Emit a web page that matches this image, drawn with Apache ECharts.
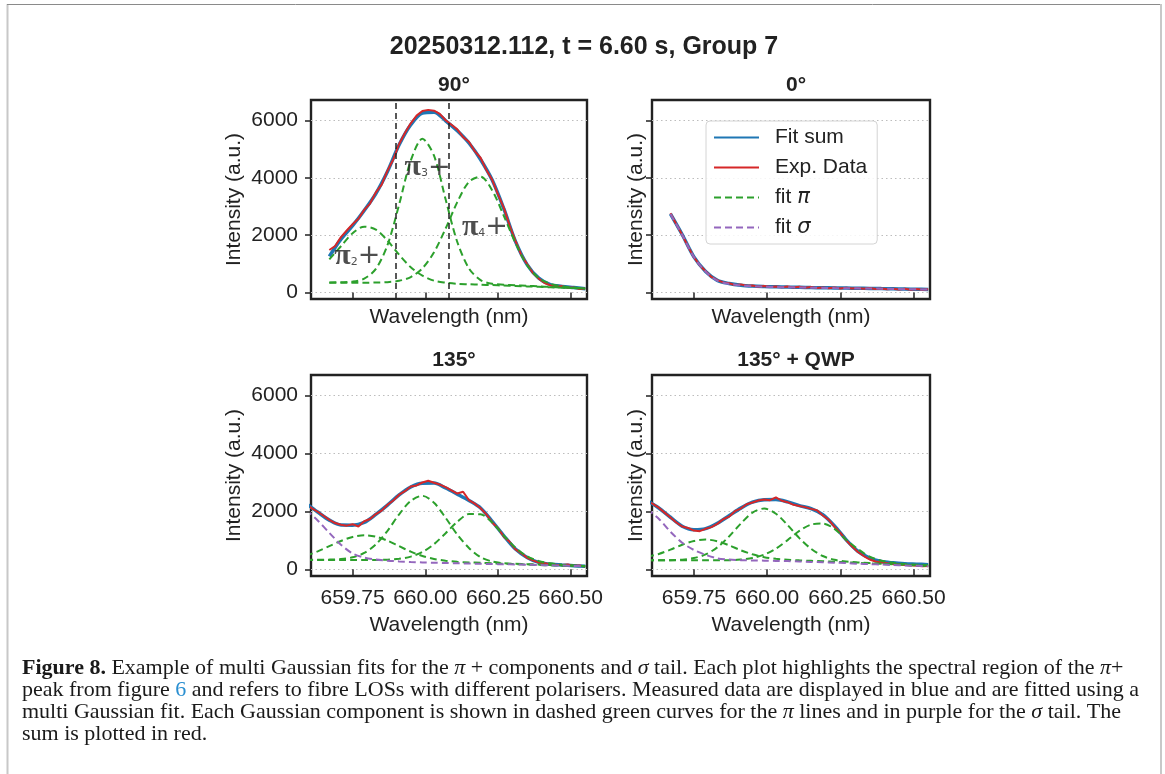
<!DOCTYPE html>
<html>
<head>
<meta charset="utf-8">
<title>Figure 8 - multi Gaussian fits</title>
<script src="https://cdn.jsdelivr.net/npm/echarts@6/dist/echarts.min.js"></script>
<style>
    html, body { margin: 0; padding: 0; background: #fff; }
    #chart { width: 1165px; height: 774px; }
</style>
</head>
<body>
<div id="chart"></div>
<script>
// wavelength grids (nm)
const wlTop = [659.67, 659.71, 659.75, 659.79, 659.83, 659.87, 659.91, 659.95, 659.99, 660.03, 660.07, 660.11,
    660.15, 660.19, 660.23, 660.27, 660.31, 660.35, 660.39, 660.43, 660.47, 660.51, 660.55];
const wlBot = [659.59, 659.63, 659.67, 659.71, 659.75, 659.79, 659.83, 659.87, 659.91, 659.95, 659.99, 660.03, 660.07,
    660.11, 660.15, 660.19, 660.23, 660.27, 660.31, 660.35, 660.39, 660.43, 660.47, 660.51, 660.55];
const wlTopExp = [659.67, 659.69, 659.71, 659.73, 659.75, 659.77, 659.79, 659.81, 659.83, 659.85, 659.87, 659.89,
    659.91, 659.93, 659.95, 659.97, 659.99, 660.01, 660.03, 660.05, 660.07, 660.09, 660.11, 660.13, 660.15, 660.17,
    660.19, 660.21, 660.23, 660.25, 660.27, 660.29, 660.31, 660.33, 660.35, 660.37, 660.39, 660.41, 660.43, 660.45,
    660.47, 660.49, 660.51, 660.53, 660.55];
const wlBotExp = [659.59, 659.61, 659.63, 659.65, 659.67, 659.69, 659.71, 659.73, 659.75, 659.77, 659.79, 659.81,
    659.83, 659.85, 659.87, 659.89, 659.91, 659.93, 659.95, 659.97, 659.99, 660.01, 660.03, 660.05, 660.07, 660.09,
    660.11, 660.13, 660.15, 660.17, 660.19, 660.21, 660.23, 660.25, 660.27, 660.29, 660.31, 660.33, 660.35, 660.37,
    660.39, 660.41, 660.43, 660.45, 660.47, 660.49, 660.51, 660.53, 660.55];

// 90 deg
const fit90 = [1256, 1860, 2330, 2860, 3450, 4220, 5150, 5850, 6257, 6290, 5990, 5640, 5215, 4640, 3920, 2920, 1780, 970, 500, 270, 210, 170, 130];
const exp90 = [1480, 1620, 1930, 2160, 2380, 2570, 2880, 3100, 3490, 3760, 4250, 4640, 5180, 5560, 5900, 6170, 6330, 6370, 6340, 6230,
    6010, 5850, 5690, 5420, 5260, 4930, 4700, 4270, 3930, 3420, 2950, 2330, 1800, 1310, 990, 680, 480, 330, 250, 190, 220, 160, 175, 120, 140];
const pi2_90 = [1150, 1610, 2065, 2295, 2190, 1810, 1315, 880, 585, 410, 340, 300, 285, 270, 255, 240, 225, 210, 195, 180, 165, 150, 135];
const pi3_90 = [350, 355, 376, 480, 820, 1650, 3065, 4600, 5360, 4770, 3240, 1760, 840, 430, 300, 270, 250, 230, 210, 190, 170, 155, 140];
const pi4_90 = [340, 340, 340, 340, 344, 358, 405, 536, 840, 1400, 2230, 3150, 3860, 4040, 3560, 2670, 1730, 950, 500, 300, 210, 170, 130];

// 0 deg
const fit0 = [2740, 2020, 1240, 730, 420, 310, 250, 220, 205, 195, 185, 178, 170, 163, 155, 150, 145, 140, 133, 126, 118, 110, 104];
const exp0 = [2760, 2380, 2010, 1600, 1230, 950, 740, 540, 430, 350, 320, 260, 280, 230, 240, 200, 225, 190, 210, 180,
    205, 170, 195, 160, 185, 150, 175, 145, 170, 140, 165, 135, 150, 125, 150, 120, 140, 110, 130, 105, 125, 95, 115, 90, 110];
const sig0 = [2735, 2010, 1235, 725, 410, 300, 240, 212, 198, 188, 180, 172, 165, 158, 151, 146, 141, 136, 129, 122, 114, 107, 100];

// 135 deg
const fit135 = [2280, 1980, 1700, 1530, 1526, 1620, 1900, 2220, 2570, 2845, 2975, 2980, 2810, 2600, 2380, 2120, 1660, 1160, 700, 410, 240, 176, 150, 128, 104];
const exp135 = [2250, 2110, 1990, 1850, 1710, 1600, 1540, 1510, 1560, 1480, 1660, 1740, 1910, 2030, 2230, 2380, 2580, 2700, 2860, 2900,
    3000, 3060, 2990, 2930, 2840, 2730, 2620, 2680, 2390, 2270, 2110, 1900, 1620, 1420, 1130, 950, 690, 560, 400, 310,
    230, 210, 180, 160, 150, 170, 120, 130, 95];
const sig135 = [2050, 1690, 1260, 850, 550, 410, 340, 300, 275, 255, 240, 228, 218, 210, 200, 192, 184, 176, 168, 160, 150, 140, 130, 118, 104];
const pi2_135 = [470, 620, 800, 980, 1120, 1180, 1130, 990, 800, 610, 460, 360, 300, 260, 240, 225, 210, 195, 180, 165, 150, 138, 126, 115, 104];
const pi3_135 = [330, 330, 337, 357, 415, 565, 860, 1330, 1900, 2365, 2540, 2300, 1780, 1200, 740, 420, 270, 210, 190, 180, 165, 150, 138, 122, 108];
const pi4_135 = [320, 320, 320, 320, 320, 320, 322, 333, 363, 440, 600, 870, 1250, 1640, 1910, 1900, 1620, 1160, 750, 450, 290, 210, 160, 130, 104];

// 135 deg + QWP
const fitQwp = [2380, 2120, 1800, 1490, 1370, 1405, 1590, 1850, 2115, 2320, 2405, 2410, 2330, 2200, 2100, 1890, 1500, 1020, 625, 390, 270, 225, 197, 180, 162];
const expQwp = [2370, 2260, 2130, 1960, 1790, 1620, 1480, 1430, 1340, 1320, 1400, 1460, 1570, 1730, 1820, 2010, 2100, 2250, 2310, 2380,
    2410, 2390, 2490, 2370, 2320, 2230, 2190, 2150, 2090, 2040, 1860, 1720, 1470, 1260, 1000, 790, 600, 460, 340, 270,
    240, 210, 180, 170, 150, 140, 120, 110, 115];
const sigQwp = [2080, 1750, 1300, 920, 670, 500, 380, 340, 318, 308, 300, 292, 285, 270, 258, 248, 232, 215, 195, 180, 165, 150, 135, 120, 106];
const pi2_Qwp = [430, 530, 680, 850, 980, 1030, 970, 830, 660, 520, 420, 365, 335, 310, 295, 280, 262, 245, 225, 205, 188, 170, 150, 130, 110];
const pi3_Qwp = [310, 310, 317, 335, 390, 515, 760, 1135, 1580, 1960, 2100, 1920, 1530, 1080, 710, 460, 330, 270, 240, 215, 195, 175, 155, 135, 115];
const pi4_Qwp = [310, 310, 310, 310, 310, 310, 310, 310, 340, 395, 510, 715, 1010, 1330, 1545, 1580, 1400, 1020, 700, 440, 300, 225, 185, 160, 140];

// annotations of the 90 deg panel
const markWl = [659.902, 660.078];
const piLabelSub = ['2', '3', '4'];
const piLabelWl = [659.766, 660.008, 660.205];
const piLabelInt = [1270, 4357, 2290];

const xTicks = [659.75, 660.00, 660.25, 660.50];
const yTicks = [0, 2000, 4000, 6000];
const panelTitles = ['90°', '0°', '135°', '135° + QWP'];
const legendNames = ['Fit sum', 'Exp. Data', 'fit π', 'fit σ'];
const captionLines = [
    '{b|Figure 8.} Example of multi Gaussian fits for the {i|π} + components and {i|σ} tail. Each plot highlights the spectral region of the {i|π}+',
    'peak from figure {l|6} and refers to fibre LOSs with different polarisers. Measured data are displayed in blue and are fitted using a',
    'multi Gaussian fit. Each Gaussian component is shown in dashed green curves for the {i|π} lines and in purple for the {i|σ} tail. The',
    'sum is plotted in red.'
];

const FONT = 'Liberation Sans';
const INK = '#222';
const C_BLUE = '#1f77b4', C_RED = '#d62728', C_GREEN = '#2ca02c', C_PURPLE = '#9467bd';

const grids = [
    {left: 311, top: 100, width: 276, height: 199},
    {left: 652, top: 100, width: 278, height: 199},
    {left: 311, top: 375, width: 276, height: 201},
    {left: 652, top: 375, width: 278, height: 201}
];

function pairs(xs, ys) {
    return ys.map((y, i) => [xs[i], y]);
}

function line(name, grid, xs, ys, color, width, dashed, smooth) {
    return {
        name: name,
        type: 'line',
        xAxisIndex: grid,
        yAxisIndex: grid,
        data: pairs(xs, ys),
        symbol: 'none',
        smooth: smooth,
        lineStyle: {color: color, width: width, type: dashed ? [7, 4] : 'solid'},
        itemStyle: {color: color},
        emphasis: {disabled: true},
        animation: false
    };
}

let series = [
    line('Fit sum', 0, wlTop, fit90, C_BLUE, 3.5, false, 0.3),
    line('Exp. Data', 0, wlTopExp, exp90, C_RED, 2, false, false),
    line('fit π', 0, wlTop, pi2_90, C_GREEN, 2, true, 0.3),
    line('fit π', 0, wlTop, pi3_90, C_GREEN, 2, true, 0.3),
    line('fit π', 0, wlTop, pi4_90, C_GREEN, 2, true, 0.3),

    line('Fit sum', 1, wlTop, fit0, C_BLUE, 3.5, false, 0.3),
    line('Exp. Data', 1, wlTopExp, exp0, C_RED, 2, false, false),
    line('fit σ', 1, wlTop, sig0, C_PURPLE, 2, true, 0.3),

    line('Fit sum', 2, wlBot, fit135, C_BLUE, 3.5, false, 0.3),
    line('Exp. Data', 2, wlBotExp, exp135, C_RED, 2, false, false),
    line('fit π', 2, wlBot, pi2_135, C_GREEN, 2, true, 0.3),
    line('fit π', 2, wlBot, pi3_135, C_GREEN, 2, true, 0.3),
    line('fit π', 2, wlBot, pi4_135, C_GREEN, 2, true, 0.3),
    line('fit σ', 2, wlBot, sig135, C_PURPLE, 2, true, 0.3),

    line('Fit sum', 3, wlBot, fitQwp, C_BLUE, 3.5, false, 0.3),
    line('Exp. Data', 3, wlBotExp, expQwp, C_RED, 2, false, false),
    line('fit π', 3, wlBot, pi2_Qwp, C_GREEN, 2, true, 0.3),
    line('fit π', 3, wlBot, pi3_Qwp, C_GREEN, 2, true, 0.3),
    line('fit π', 3, wlBot, pi4_Qwp, C_GREEN, 2, true, 0.3),
    line('fit σ', 3, wlBot, sigQwp, C_PURPLE, 2, true, 0.3)
];

// the two black dashed guides
series[0].markLine = {
    silent: true,
    symbol: ['none', 'none'],
    label: {show: false},
    animation: false,
    lineStyle: {color: INK, type: [6, 4], width: 1.5},
    data: markWl.map(x => ({xAxis: x}))
};

// pi labels
series.push({
    type: 'scatter',
    xAxisIndex: 0,
    yAxisIndex: 0,
    symbolSize: 0,
    silent: true,
    z: 5,
    animation: false,
    data: piLabelWl.map((x, i) => ({
        value: [x, piLabelInt[i]],
        label: {formatter: '{p|π}{s|' + piLabelSub[i] + '}{q|+}'}
    })),
    label: {
        show: true,
        position: 'inside',
        rich: {
            p: {fontSize: 30, fontWeight: 'bold', fontFamily: 'Liberation Serif', color: INK},
            s: {fontSize: 11, fontFamily: 'DejaVu Sans', color: INK, padding: [12, 0, 0, 0]},
            q: {fontSize: 27, fontFamily: 'DejaVu Sans', color: INK}
        }
    }
});

let option = {
    backgroundColor: '#fff',
    animation: false,
    title: [{
        text: '20250312.112, t = 6.60 s, Group 7',
        left: 579, top: 30, textAlign: 'center',
        textStyle: {fontSize: 25, fontWeight: 'bold', color: INK, fontFamily: FONT}
    }].concat(panelTitles.map((t, i) => ({
        text: t,
        left: grids[i].left + grids[i].width / 2,
        top: i < 2 ? 70 : 345,
        textAlign: 'center',
        textStyle: {fontSize: 21, fontWeight: 'bold', color: INK, fontFamily: FONT}
    }))),
    legend: {
        data: legendNames,
        orient: 'vertical',
        left: 706,
        top: 121,
        padding: [6, 10, 6, 7],
        itemWidth: 45,
        itemHeight: 14,
        itemGap: 9,
        selectedMode: false,
        backgroundColor: 'rgba(255,255,255,0.85)',
        borderColor: '#d4d4d4',
        borderWidth: 1,
        borderRadius: 4,
        itemStyle: {opacity: 0, borderWidth: 0},
        formatter: name => name.replace(/([πσ])/, '{i|$1}'),
        textStyle: {
            fontSize: 21, color: INK, fontFamily: FONT, padding: [0, 0, 0, 11],
            rich: {i: {fontSize: 21, fontStyle: 'italic', fontFamily: 'DejaVu Sans', color: INK}}
        }
    },
    grid: grids.map(g => Object.assign({show: true, borderColor: INK, borderWidth: 2.4, backgroundColor: 'transparent'}, g)),
    xAxis: grids.map((g, i) => ({
        type: 'value',
        gridIndex: i,
        min: 659.607,
        max: 660.556,
        name: 'Wavelength (nm)',
        nameLocation: 'middle',
        nameGap: i < 2 ? 8 : 39,
        nameMoveOverlap: false,
        nameTextStyle: {fontSize: 21, color: INK, fontFamily: FONT},
        axisLine: {show: false},
        axisTick: {show: true, length: 6, customValues: xTicks, lineStyle: {color: INK, width: 1.5}},
        axisLabel: {
            show: i >= 2, customValues: xTicks, margin: 12,
            fontSize: 21, color: INK, fontFamily: FONT,
            formatter: v => v.toFixed(2)
        },
        splitLine: {show: false}
    })),
    yAxis: grids.map((g, i) => ({
        type: 'value',
        gridIndex: i,
        min: -230,
        max: 6715,
        name: 'Intensity (a.u.)',
        nameLocation: 'middle',
        nameGap: i % 2 === 0 ? 66 : 5,
        nameMoveOverlap: false,
        nameTextStyle: {fontSize: 21, color: INK, fontFamily: FONT},
        axisLine: {show: false},
        axisTick: {show: true, length: 6, customValues: yTicks, lineStyle: {color: INK, width: 1.5}},
        axisLabel: {
            show: i % 2 === 0, customValues: yTicks, margin: 13,
            fontSize: 21, color: INK, fontFamily: FONT,
            formatter: v => String(v)
        },
        splitLine: {show: true, lineStyle: {color: '#bdbdbd', width: 1, type: [1.5, 3]}}
    })),
    graphic: [
        {type: 'line', shape: {x1: 7.5, y1: 4, x2: 7.5, y2: 774}, style: {stroke: '#c8c8c8', lineWidth: 2}},
        {type: 'line', shape: {x1: 7, y1: 4.5, x2: 1161, y2: 4.5}, style: {stroke: '#8a8a8a', lineWidth: 1}},
        {type: 'line', shape: {x1: 1161, y1: 4, x2: 1161, y2: 774}, style: {stroke: '#c8c8c8', lineWidth: 2}}
    ].concat(captionLines.map((t, i) => ({
        type: 'text',
        x: 22,
        y: 668 + i * 22,
        style: {
            text: t,
            fill: '#1a1a1a',
            fontSize: 22,
            fontFamily: 'Liberation Serif',
            verticalAlign: 'middle',
            rich: {
                b: {fontWeight: 'bold', fontSize: 22, fontFamily: 'Liberation Serif', fill: '#1a1a1a'},
                i: {fontStyle: 'italic', fontSize: 22, fontFamily: 'Liberation Serif', fill: '#1a1a1a'},
                l: {fontSize: 22, fontFamily: 'Liberation Serif', fill: '#2a8fd1'}
            }
        }
    }))),
    series: series
};

let myChart = echarts.init(document.getElementById('chart'), null, {renderer: 'canvas'});
myChart.setOption(option);
</script>
</body>
</html>
